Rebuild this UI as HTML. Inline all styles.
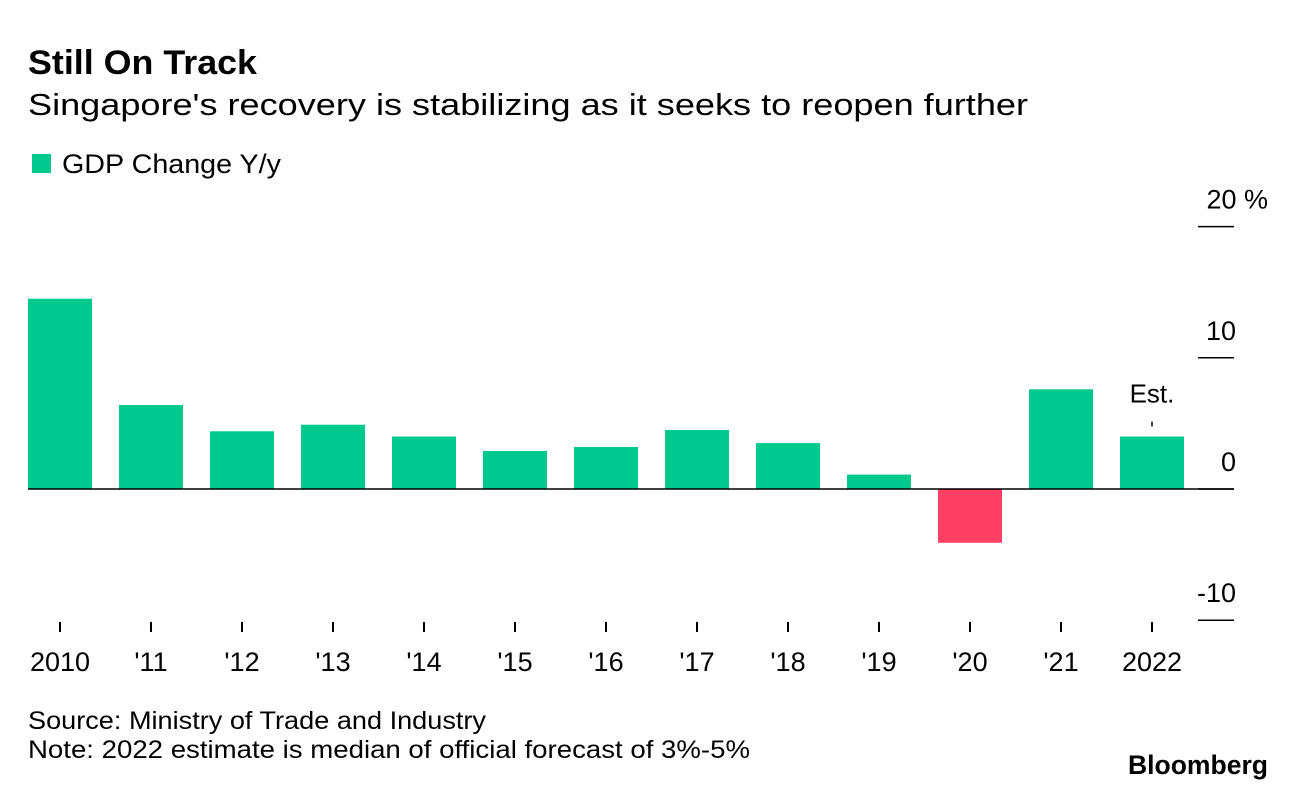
<!DOCTYPE html>
<html><head><meta charset="utf-8"><style>
body{margin:0;background:#fff;font-family:"Liberation Sans",Arial,sans-serif;}
svg text{font-family:"Liberation Sans",Arial,sans-serif;}
</style></head><body>
<svg width="1296" height="790" xmlns="http://www.w3.org/2000/svg">
<text x="28" y="74" font-size="34" font-weight="bold" fill="#000" textLength="229" lengthAdjust="spacingAndGlyphs">Still On Track</text>
<text x="28" y="115" font-size="31" fill="#000" textLength="1000" lengthAdjust="spacingAndGlyphs">Singapore's recovery is stabilizing as it seeks to reopen further</text>
<rect x="32" y="154" width="19" height="19" fill="#00c98d"/>
<text x="62" y="173" font-size="27" fill="#000" textLength="219" lengthAdjust="spacingAndGlyphs">GDP Change Y/y</text>
<g id="plot"></g>
<text x="28" y="729" font-size="25" fill="#000" textLength="458" lengthAdjust="spacingAndGlyphs">Source: Ministry of Trade and Industry</text>
<text x="28" y="758" font-size="25" fill="#000" textLength="722" lengthAdjust="spacingAndGlyphs">Note: 2022 estimate is median of official forecast of 3%-5%</text>
<text x="1128" y="774" font-size="27" font-weight="bold" fill="#000" textLength="140" lengthAdjust="spacingAndGlyphs">Bloomberg</text>
</svg>
<script>
const categories=["2010","'11","'12","'13","'14","'15","'16","'17","'18","'19","'20","'21","2022"];
const values=[14.5,6.4,4.4,4.9,4.0,2.9,3.2,4.5,3.5,1.1,-4.1,7.6,4.0];
const yTicks=[20,10,0,-10];
const yTickLabels=["20 %","10","0","-10"];
const NS="http://www.w3.org/2000/svg";
const g=document.getElementById('plot');
const y=v=>489-v*13.12;
const x=i=>60+i*91;
function mk(t,a){const e=document.createElementNS(NS,t);for(const k in a)e.setAttribute(k,a[k]);g.appendChild(e);return e;}
values.forEach((v,i)=>{
 const r=mk('rect',{x:x(i)-32,y:Math.min(y(v),y(0)),width:64,height:Math.abs(y(v)-y(0)),fill:v<0?'#ff4064':'#00c98d'});
 
 
 const tk=mk('line',{x1:x(i),x2:x(i),y1:622,y2:632,stroke:'#000','stroke-width':2});
 
 
 const t=mk('text',{x:x(i),y:671,'font-size':27,'text-anchor':'middle',fill:'#000'});
 t.textContent=categories[i];
 
 
});
yTicks.forEach((v,i)=>{
 const l=mk('line',{x1:1198,x2:1234,y1:y(v),y2:y(v),stroke:'#000','stroke-width':1.5});
 
 
 const t=mk('text',{x:v===20?1268:1236,y:y(v)-18,'font-size':27,'text-anchor':'end',fill:'#000'});
 t.textContent=yTickLabels[i];
 
 
});
const z=mk('line',{x1:28,x2:1234,y1:y(0),y2:y(0),stroke:'#000','stroke-width':1.5});


const last=values.length-1;
const et=mk('text',{x:x(last),y:y(values[last])-34,'font-size':26,'text-anchor':'middle',fill:'#000'});
et.textContent='Est.';


const el=mk('line',{x1:x(last),x2:x(last),y1:y(values[last])-15,y2:y(values[last])-10,stroke:'#000','stroke-width':1.5});


</script>
</body></html>
